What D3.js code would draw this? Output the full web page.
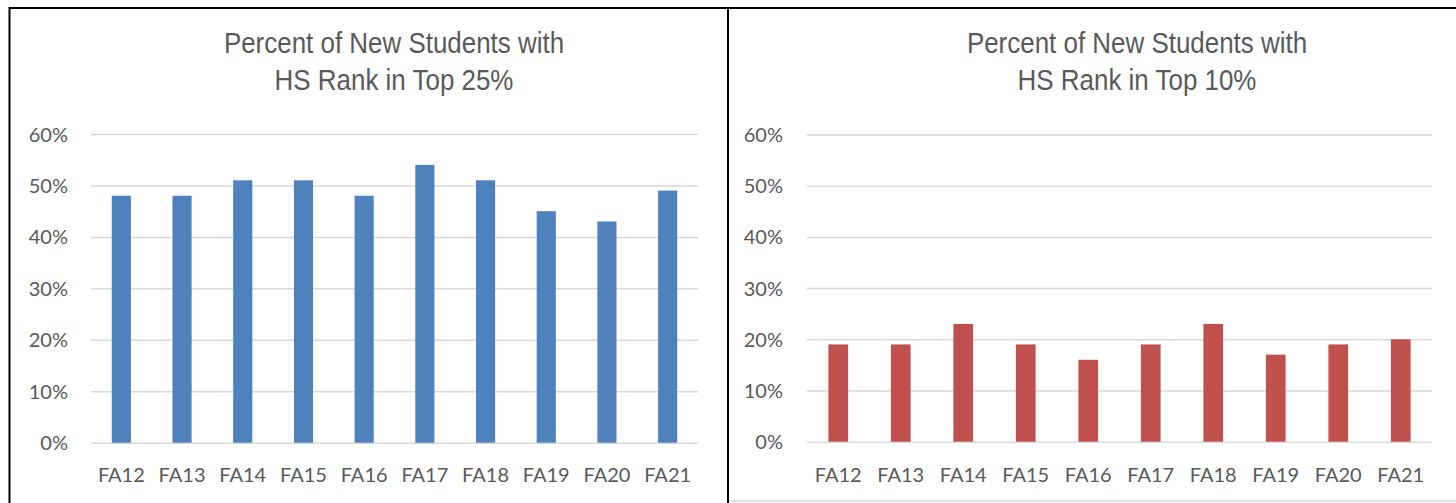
<!DOCTYPE html>
<html>
<head>
<meta charset="utf-8">
<script src="https://cdn.jsdelivr.net/npm/d3@7"></script>
<style>
  html, body { margin: 0; padding: 0; background: #ffffff; }
  svg { display: block; }
</style>
</head>
<body>
<svg id="chart" width="1456" height="503"></svg>
<script>
// ---- data ----
const categories = ["FA12", "FA13", "FA14", "FA15", "FA16", "FA17", "FA18", "FA19", "FA20", "FA21"];
const top25Values = [0.48, 0.48, 0.51, 0.51, 0.48, 0.54, 0.51, 0.45, 0.43, 0.49];
const top10Values = [0.19, 0.19, 0.23, 0.19, 0.16, 0.19, 0.23, 0.17, 0.19, 0.20];
const yTickValues = [0, 0.1, 0.2, 0.3, 0.4, 0.5, 0.6];
const titleTop25 = ["Percent of New Students with", "HS Rank in Top 25%"];
const titleTop10 = ["Percent of New Students with", "HS Rank in Top 10%"];

const svg = d3.select("#chart");
const textColor = "#595959";
const gridColor = "#d9d9d9";
const tickFont = "Lato, 'Open Sans', 'Liberation Sans', sans-serif";
const titleFont = "'Liberation Sans', Arial, sans-serif";

function drawChart(cfg) {
  const g = svg.append("g");
  const x = d3.scaleBand()
    .domain(categories)
    .range([cfg.x0, cfg.x1])
    .paddingInner(0.685)
    .paddingOuter(0.3425);
  const y = d3.scaleLinear().domain([0, 0.6]).range([cfg.y0, cfg.y1]);

  // gridlines
  const grid = d3.axisLeft(y).tickValues(yTickValues).tickSize(-(cfg.x1 - cfg.x0)).tickFormat("");
  const gg = g.append("g").attr("transform", `translate(${cfg.x0},0)`).call(grid);
  gg.select(".domain").remove();
  gg.selectAll("line").attr("stroke", gridColor).attr("stroke-width", 1.5);

  // y axis labels
  const ya = d3.axisLeft(y).tickValues(yTickValues).tickSize(0).tickPadding(cfg.yPad).tickFormat(d3.format(".0%"));
  const yg = g.append("g").attr("transform", `translate(${cfg.x0},0)`).call(ya);
  yg.select(".domain").remove();
  yg.selectAll("text")
    .attr("fill", textColor)
    .style("font-family", tickFont)
    .style("font-size", "20px")
    .attr("dy", "0.35em");

  // bars
  g.append("g").selectAll("rect")
    .data(cfg.values)
    .join("rect")
    .attr("x", (d, i) => x(categories[i]))
    .attr("width", x.bandwidth())
    .attr("y", d => y(d))
    .attr("height", d => y(0) - y(d))
    .attr("fill", cfg.color);

  // x axis labels
  const xa = d3.axisBottom(x).tickSize(0).tickPadding(0);
  const xg = g.append("g").attr("transform", `translate(0,${cfg.labelY})`).call(xa);
  xg.select(".domain").remove();
  xg.selectAll("text")
    .attr("fill", textColor)
    .attr("dy", "0")
    .style("font-family", tickFont)
    .style("font-size", "20px");

  // title
  cfg.title.forEach((line, i) => {
    g.append("text")
      .attr("transform", `translate(${cfg.titleX},${53 + i * 36.5}) scale(0.895,1)`)
      .attr("text-anchor", "middle")
      .attr("fill", textColor)
      .style("font-family", titleFont)
      .style("font-size", "29px")
      .text(line);
  });
}

drawChart({ x0: 91, x1: 698, y0: 442.7, y1: 134, yPad: 23, values: top25Values, color: "#4f81bd",
            labelY: 482, title: titleTop25, titleX: 394 });
drawChart({ x0: 807, x1: 1432, y0: 441.7, y1: 134.5, yPad: 24, values: top10Values, color: "#c0504d",
            labelY: 481.5, title: titleTop10, titleX: 1137 });

// frames
svg.append("line").attr("x1", 9).attr("x2", 1456).attr("y1", 8).attr("y2", 8)
  .attr("stroke", "#000").attr("stroke-width", 2);
svg.append("line").attr("x1", 9.5).attr("x2", 9.5).attr("y1", 7).attr("y2", 503)
  .attr("stroke", "#000").attr("stroke-width", 2);
svg.append("line").attr("x1", 728).attr("x2", 728).attr("y1", 7).attr("y2", 503)
  .attr("stroke", "#000").attr("stroke-width", 2);
svg.append("line").attr("x1", 729).attr("x2", 1456).attr("y1", 501).attr("y2", 501)
  .attr("stroke", gridColor).attr("stroke-width", 1.5);
</script>
</body>
</html>
